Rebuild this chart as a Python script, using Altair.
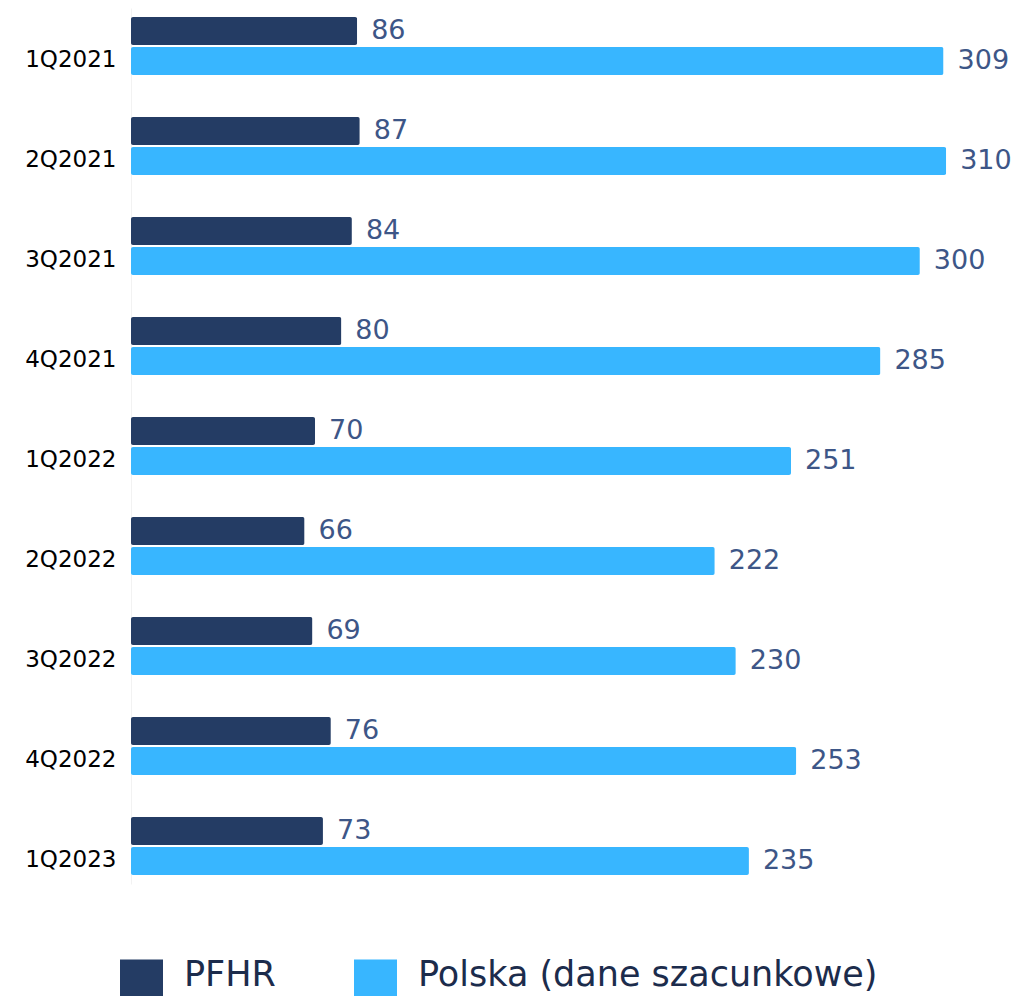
import altair as alt
import pandas as pd

FONT = "DejaVu Sans"

quarters = ["1Q2021", "2Q2021", "3Q2021", "4Q2021", "1Q2022",
            "2Q2022", "3Q2022", "4Q2022", "1Q2023"]
pfhr = [86, 87, 84, 80, 70, 66, 69, 76, 73]
polska = [309, 310, 300, 285, 251, 222, 230, 253, 235]
series = ["PFHR", "Polska (dane szacunkowe)"]
colors = ["#243c64", "#38b6ff"]

rows = []
for q, a, b in zip(quarters, pfhr, polska):
    rows.append({"q": q, "s": series[0], "v": a})
    rows.append({"q": q, "s": series[1], "v": b})
df = pd.DataFrame(rows)

base = alt.Chart(df).encode(
    y=alt.Y("q:N", sort=quarters,
            scale=alt.Scale(paddingInner=0.42, paddingOuter=0.09),
            axis=alt.Axis(title=None, ticks=False, domain=True, domainColor="#f2f2f2",
                          labelOffset=14, labelPadding=15, labelFontSize=23,
                          labelColor="#000000", labelFont=FONT)),
    yOffset=alt.YOffset("s:N", sort=series,
                        scale=alt.Scale(paddingInner=0.07, paddingOuter=0)),
    x=alt.X("v:Q", scale=alt.Scale(domain=[0, 332], nice=False, zero=True), axis=None),
)

bars = base.mark_bar(cornerRadius=2).encode(
    color=alt.Color("s:N", sort=series,
                    scale=alt.Scale(domain=series, range=colors),
                    legend=alt.Legend(title=None, orient="none", legendX=-11, legendY=945,
                                      direction="horizontal",
                                      symbolType="M-1,-0.72H1V1.28H-1Z",
                                      symbolSize=1849, symbolStrokeWidth=0, symbolOpacity=1,
                                      labelFontSize=35, labelColor="#1c2c4c", labelFont=FONT,
                                      labelLimit=900, labelOffset=21, columnPadding=78))
)

text = base.mark_text(align="left", baseline="middle", dx=14, fontSize=27,
                      color="#3d5687", font=FONT).encode(text="v:Q")

chart = (bars + text).properties(
    width=873, height=876,
    autosize=alt.AutoSizeParams(type="none"),
    padding={"left": 123, "top": 0, "right": 9, "bottom": 112},
).configure_view(stroke=None)

chart.save("out.html", embed_options={"renderer": "svg", "actions": False})
